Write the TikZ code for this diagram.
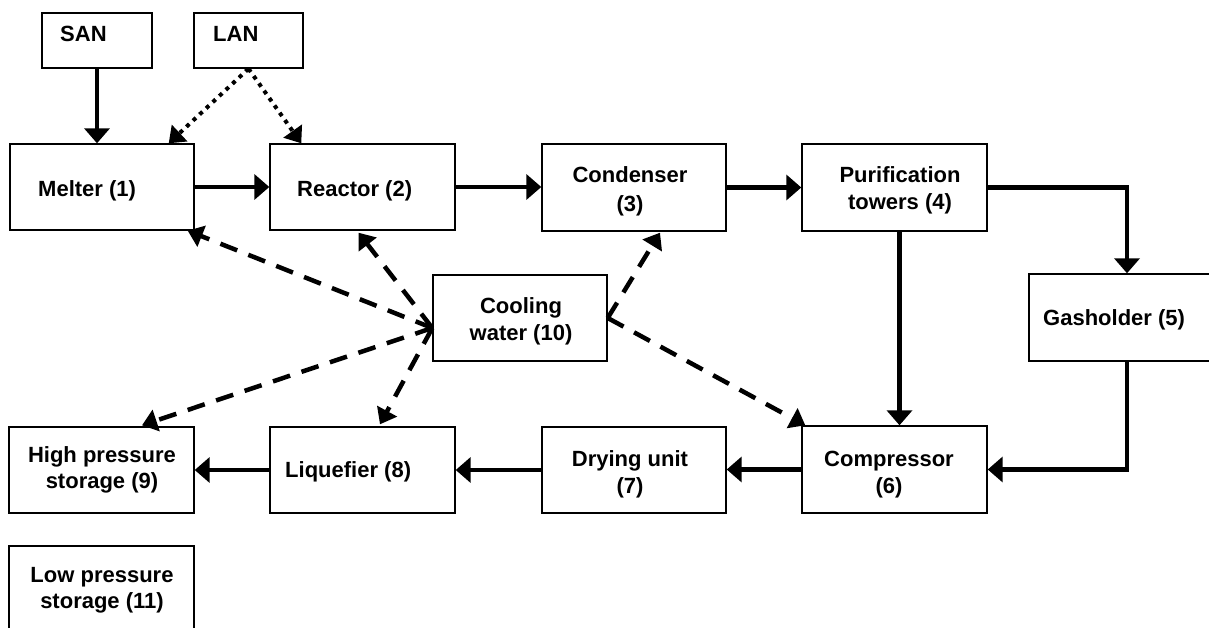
\documentclass[tikz,border=0pt]{standalone}
\usepackage{fontspec}
\setmainfont{Liberation Sans}
\usetikzlibrary{arrows.meta,calc}
\begin{document}
\begin{tikzpicture}[x=1pt,y=-1pt,
  box/.style={draw,rectangle,line width=1.4pt,inner sep=0pt,minimum width=#1},
  box/.default=185pt,
  lbl/.style={font=\fontsize{22}{26}\selectfont\bfseries,inner sep=0pt,anchor=base},
  flow/.style={line width=4.5pt,line join=miter,-{Triangle[length=15pt,width=25pt]}},
  cool/.style={line width=4.5pt,dash pattern=on 18pt off 12pt,-{Triangle[length=15pt,width=22pt]}},
  dots/.style={line width=4pt,dash pattern=on 4pt off 5pt,-{Triangle[length=15pt,width=22pt]}}]
\useasboundingbox (0,0) rectangle (1209,628);
% boxes
\node[box=110pt,minimum height=55pt] (san) at (97,40.5) {};
\node[box=109pt,minimum height=55pt] (lan) at (248.5,40.5) {};
\node[box=184pt,minimum height=86pt] (melter) at (102,187) {};
\node[box,minimum height=86pt] (reactor) at (362.5,187) {};
\node[box=184pt,minimum height=87pt] (cond) at (634,187.5) {};
\node[box,minimum height=87pt] (purif) at (894.5,187.5) {};
\node[box,minimum height=87pt] (gas) at (1121.5,317.5) {};
\node[box=174pt,minimum height=86pt] (cw) at (520,318) {};
\node[box,minimum height=87pt] (comp) at (894.5,469.5) {};
\node[box=184pt,minimum height=86pt] (dry) at (634,470) {};
\node[box,minimum height=86pt] (liq) at (362.5,470) {};
\node[box,minimum height=86pt] (hp) at (101.5,470) {};
\node[box,minimum height=86pt] (lp) at (101.5,589) {};
% labels
\node[lbl,anchor=base west] (tsan) at (60,42) {SAN};
\node[lbl,anchor=base west] (tlan) at (213,42) {LAN};
\node[lbl,anchor=base west] (tmelter) at (38,197) {Melter (1)};
\node[lbl,anchor=base west] (treactor) at (297,197) {Reactor (2)};
\node[lbl] (tcond1) at (630,183) {Condenser};
\node[lbl] (tcond2) at (630,212) {(3)};
\node[lbl] (tpur1) at (900,183) {Purification};
\node[lbl] (tpur2) at (900,210) {towers (4)};
\node[lbl,anchor=base west] (tgas) at (1043,325) {Gasholder (5)};
\node[lbl] (tcw1) at (521,313) {Cooling};
\node[lbl] (tcw2) at (521,340) {water (10)};
\node[lbl] (tcomp1) at (889,466) {Compressor};
\node[lbl] (tcomp2) at (889,493) {(6)};
\node[lbl] (tdry1) at (630,466) {Drying unit};
\node[lbl] (tdry2) at (630,493) {(7)};
\node[lbl,anchor=base west] (tliq) at (285,477) {Liquefier (8)};
\node[lbl] (thp1) at (102,462) {High pressure};
\node[lbl] (thp2) at (102,488) {storage (9)};
\node[lbl] (tlp1) at (102,582) {Low pressure};
\node[lbl] (tlp2) at (102,608) {storage (11)};
% solid flows
\draw[flow] (san.south) -- (san.south |- melter.north);
\draw[flow] (melter.east) -- (reactor.west);
\draw[flow] (reactor.east) -- (reactor.east -| cond.west);
\draw[flow] (cond.east) -- (cond.east -| purif.west);
\draw[flow] (purif.east) -| ([xshift=5.5pt]gas.north);
\draw[flow] ([xshift=5pt]purif.south) -- ([xshift=5pt]comp.north);
\draw[flow] ([xshift=5.5pt]gas.south) |- (comp.east);
\draw[flow] (comp.west) -- (comp.west -| dry.east);
\draw[flow] (dry.west) -- (liq.east);
\draw[flow] (liq.west) -- (hp.east);
% dotted from LAN
\draw[dots] (lan.south) -- ($(melter.north east)+(-26,0)$);
\draw[dots] (lan.south) -- ($(reactor.north west)+(32,0)$);
% dashed cooling water
\coordinate (cwl) at ($(cw.west)+(0,10)$);
\coordinate (cwr) at (cw.east);
\draw[cool] (cwl) -- ($(melter.south east)+(-7,0)$);
\draw[cool] (cwl) -- ($(reactor.south)+(-4,2)$);
\draw[cool] (cwl) -- ($(hp.north)+(40.5,-1)$);
\draw[cool] (cwl) -- ($(liq.north)+(17.5,-2)$);
\draw[cool] (cwr) -- ($(cond.south)+(26,1)$);
\draw[cool] (cwr) -- ($(comp.north west)+(4,0)$);
\end{tikzpicture}
\end{document}
